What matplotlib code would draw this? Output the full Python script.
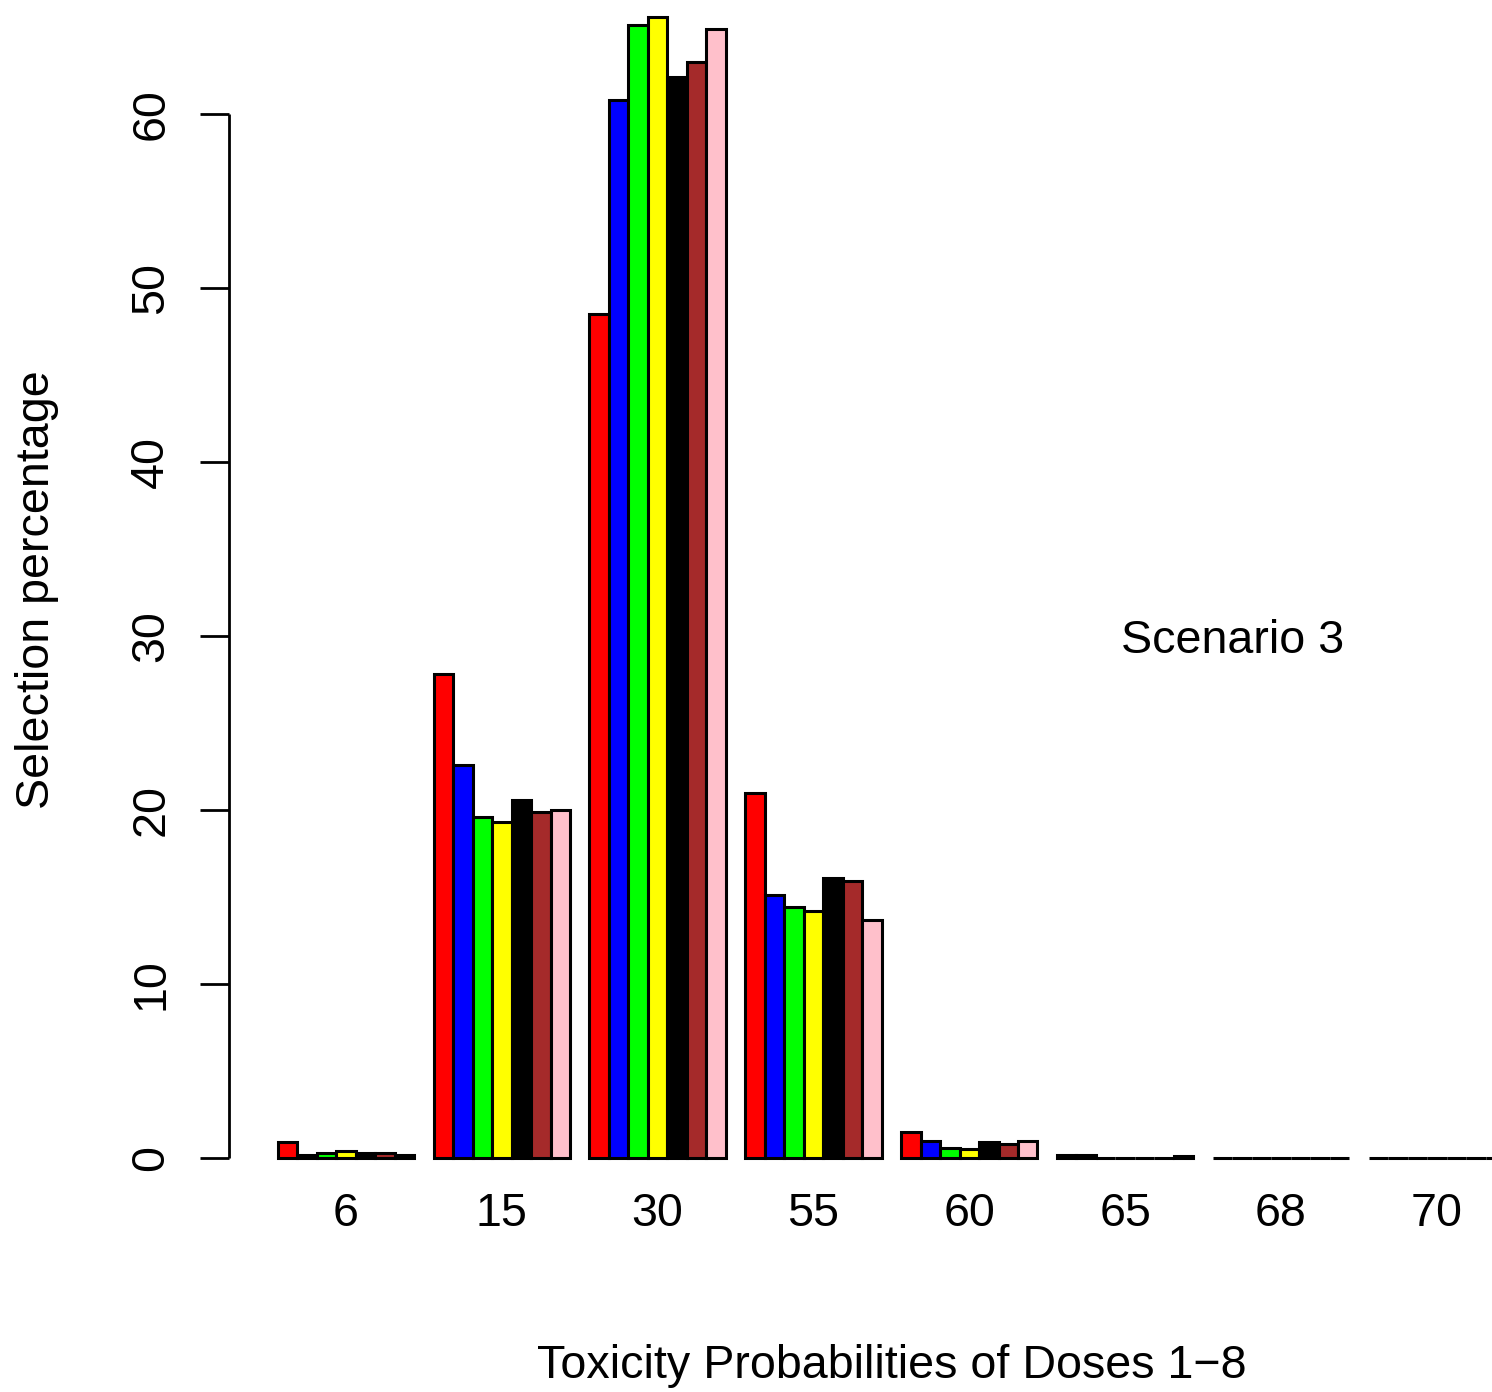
import numpy as np
import matplotlib
matplotlib.use("Agg")
import matplotlib.pyplot as plt

plt.rcParams['font.family'] = ['Liberation Sans', 'DejaVu Sans']

# true toxicity probabilities (%) of the 8 doses
doses = ["6", "15", "30", "55", "60", "65", "68", "70"]

# selection percentage of each dose, one list per design
sel_red = [0.9, 27.8, 48.5, 21.0, 1.5, 0.2, 0.0, 0.0]
sel_blue = [0.2, 22.6, 60.8, 15.1, 1.0, 0.2, 0.0, 0.0]
sel_green = [0.3, 19.6, 65.1, 14.4, 0.6, 0.0, 0.0, 0.0]
sel_yellow = [0.4, 19.3, 65.6, 14.2, 0.5, 0.0, 0.0, 0.0]
sel_black = [0.3, 20.6, 62.1, 16.1, 0.9, 0.0, 0.0, 0.0]
sel_brown = [0.3, 19.9, 63.0, 15.9, 0.8, 0.0, 0.0, 0.0]
sel_pink = [0.2, 20.0, 64.9, 13.7, 1.0, 0.1, 0.0, 0.0]

series = [sel_red, sel_blue, sel_green, sel_yellow, sel_black, sel_brown, sel_pink]
colors = ["#FF0000", "#0000FF", "#00FF00", "#FFFF00", "#000000", "#A52A2A", "#FFC0CB"]

W, H = 1492, 1392
fs = 33.6
fig = plt.figure(figsize=(W / 100, H / 100), dpi=100)

# plot region like R's barplot(beside=TRUE), partly outside the page
x0, x1 = 228.7, 1554.1
yb, yt = 1203.6, -29.0
ax = fig.add_axes([x0 / W, 1 - yb / H, (x1 - x0) / W, (yb - yt) / H])
ax.set_xlim(-1.52, 66.52)
ax.set_ylim(-2.62, 68.22)

nser = len(series)
ngrp = len(doses)
for j, (vals, col) in enumerate(zip(series, colors)):
    left = 1 + np.arange(ngrp) * (nser + 1) + j
    ax.bar(left, vals, width=1.0, align='edge', color=col,
           edgecolor='black', linewidth=2.2, clip_on=False)

for s in ax.spines.values():
    s.set_visible(False)

# y axis drawn only between first and last tick, as R does
ax.plot([-1.52, -1.52], [0, 60], color='black', lw=2.0, clip_on=False,
        solid_capstyle='butt')
ax.set_yticks(np.arange(0, 61, 10))
ax.set_yticklabels([str(v) for v in range(0, 61, 10)], rotation=90,
                   va='center', fontsize=fs)
ax.tick_params(axis='y', length=21, width=2.0, pad=19)

centers = 1 + np.arange(ngrp) * (nser + 1) + nser / 2
ax.set_xticks(centers)
ax.set_xticklabels(doses, fontsize=fs)
ax.tick_params(axis='x', length=0, pad=-8.2)

ax.text(50, 29.7, "Scenario 3", fontsize=fs, ha='center', va='center')

fig.text((x0 + x1) / 2 / W, 1 - 1366 / H, "Toxicity Probabilities of Doses 1\u22128",
         fontsize=fs, ha='center', va='center')
fig.text(37 / W, 1 - 590 / H, "Selection percentage", fontsize=fs,
         rotation=90, ha='center', va='center')

fig.savefig("out.png", dpi=100)
